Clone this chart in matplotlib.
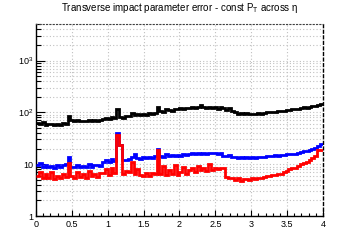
import numpy as np
import matplotlib
matplotlib.use("Agg")
import matplotlib.pyplot as plt
from matplotlib.ticker import FixedLocator, FuncFormatter, MultipleLocator

plt.rcParams['font.family'] = ['Liberation Sans', 'DejaVu Sans']
plt.rcParams['mathtext.fontset'] = 'custom'
plt.rcParams['mathtext.rm'] = 'Liberation Sans'
plt.rcParams['mathtext.it'] = 'Liberation Sans:italic'

title = "Transverse impact parameter error - const P$_{\\rm T}$ across η"
eta_min, eta_max, n_bins = 0.0, 4.0, 100

black_vals = [63, 60, 64, 58, 61, 59, 57, 61, 58, 62, 61,
              85,
              70, 68, 71, 67, 69, 68, 72, 69, 70, 68, 71,
              76, 79, 75, 80, 77,
              118,
              80, 78, 84,
              86, 97, 88, 94,
              90, 95, 91, 96, 92, 97,
              125,
              108, 104, 114, 110, 106, 115,
              118, 123, 115, 124, 119, 126, 120, 125,
              136,
              126, 122, 129, 124, 128, 118, 126, 121,
              113, 119, 106, 100,
              92,
              96, 94, 98, 93, 95, 94, 97, 95, 98,
              100, 102, 101, 104, 106, 105, 108,
              112, 110, 115, 118, 117, 122,
              125, 124, 128, 131, 134, 139, 146]

blue_vals = [9.6, 10.4, 9.0, 9.6, 8.8, 9.4, 8.6, 9.8, 8.9, 9.5, 10.0,
             13.9,
             9.0, 8.8, 9.6, 8.7, 9.3, 8.9, 9.9, 9.0, 9.5, 9.7, 9.2,
             11.0, 11.8, 11.2, 12.4, 11.5,
             40,
             23,
             12.2, 11.8,
             12.8, 13.8, 16.0, 13.0,
             12.6, 13.6, 12.9, 13.8, 13.0, 14.2,
             19.6,
             14.5, 14.0, 15.4, 14.4, 15.0, 14.2, 15.3, 14.6, 15.5, 14.9,
             15.8, 16.5, 15.6, 16.7, 16.0, 16.6, 15.9, 16.8, 16.1, 16.5, 15.8, 16.2,
             14.6, 14.2, 14.8, 14.0, 13.6, 13.4,
             13.5, 13.2, 13.6, 13.3, 13.5, 13.4, 13.7, 13.5, 13.8,
             14.2, 14.5, 14.3, 14.8, 14.6, 15.0, 15.1,
             15.4, 15.8, 15.6, 16.0, 16.3,
             17.0, 17.8, 18.2, 18.8, 19.5, 20.8, 22.0, 24.5]

red_vals = [5.8, 7.2, 5.5, 6.4, 5.3, 7.0, 5.2, 6.0, 5.4, 6.6, 5.6,
            10.4,
            6.0, 5.5, 7.2, 5.7, 6.6, 5.4, 7.4, 5.8, 6.5, 5.6, 6.9,
            6.8, 8.0, 6.3, 8.6, 6.7,
            36,
            23,
            6.6, 7.4,
            7.2, 11.2, 6.6, 8.2,
            6.1, 6.0, 6.9, 5.9, 6.8, 6.6,
            18.8,
            6.6, 9.2, 6.3, 7.6, 6.5, 9.6, 6.2, 7.0, 9.0, 6.4,
            7.6, 8.3, 7.2, 9.4, 7.8, 8.4, 7.4, 10.2, 7.6, 8.6, 7.9, 8.6,
            8.4,
            5.6, 5.4, 5.5, 5.0, 5.3,
            4.8, 5.1, 5.2, 5.0, 5.3, 5.2, 5.4, 5.3, 5.6,
            5.8, 6.0, 6.3, 6.2, 6.5, 6.6, 7.0,
            7.5, 8.0, 8.4, 8.6, 9.2,
            10.0, 10.5, 11.2, 12.0, 13.2, 14.5, 18.5, 19.0]

edges = np.linspace(eta_min, eta_max, n_bins + 1)

fig = plt.figure(figsize=(3.6, 2.4), dpi=100)
ax = fig.add_axes([0.1, 0.1, 0.797, 0.8])

ax.set_yscale('log')
ax.set_xlim(eta_min, eta_max)
ax.set_ylim(1, 10 ** 3.706)

ax.stairs(black_vals, edges, color='black', linewidth=2.0, baseline=None, zorder=3)
ax.stairs(blue_vals, edges, color='#0000ff', linewidth=2.0, baseline=None, zorder=4)
ax.stairs(red_vals, edges, color='#ff0000', linewidth=2.0, baseline=None, zorder=5)

# ticks
ax.xaxis.set_major_locator(MultipleLocator(0.5))
ax.xaxis.set_minor_locator(MultipleLocator(0.1))
ax.xaxis.set_major_formatter(FuncFormatter(lambda v, p: f"{v:g}"))
ax.yaxis.set_major_locator(FixedLocator([1, 10, 100, 1000]))
minors = [m * 10 ** d for d in range(0, 4) for m in range(2, 10)]
ax.yaxis.set_minor_locator(FixedLocator(minors))
ylab = {1: '1', 10: '10', 100: '10$^{2}$', 1000: '10$^{3}$'}
ax.yaxis.set_major_formatter(FuncFormatter(lambda v, p: ylab.get(int(round(v)), '')))
ax.yaxis.set_minor_formatter(FuncFormatter(lambda v, p: ''))

ax.tick_params(axis='x', which='major', direction='in', length=4, width=0.8, labelsize=6.5, pad=3, top=False)
ax.tick_params(axis='x', which='minor', direction='in', length=2, width=0.8, top=False)
ax.tick_params(axis='y', which='major', direction='in', length=6.5, width=0.8, labelsize=6.5, pad=2, right=False)
ax.tick_params(axis='y', which='minor', direction='in', length=3.3, width=0.8, right=False)

# grid
ax.grid(True, axis='x', which='major', color='#c0c0c0', linestyle=(0, (1, 2)), linewidth=0.8)
ax.grid(True, axis='y', which='both', color='#c0c0c0', linestyle=(0, (1, 2)), linewidth=0.8)

for s in ['left', 'bottom']:
    ax.spines[s].set_linewidth(1.0)
ax.spines['right'].set_linestyle((0, (2, 2)))
ax.spines['right'].set_linewidth(1.0)
ax.spines['top'].set_linestyle((0, (1, 2)))
ax.spines['top'].set_linewidth(0.8)
ax.spines['top'].set_color('#404040')

fig.text(0.5, 0.965, title, ha='center', va='center', fontsize=7)

fig.savefig('out.png', dpi=100)
